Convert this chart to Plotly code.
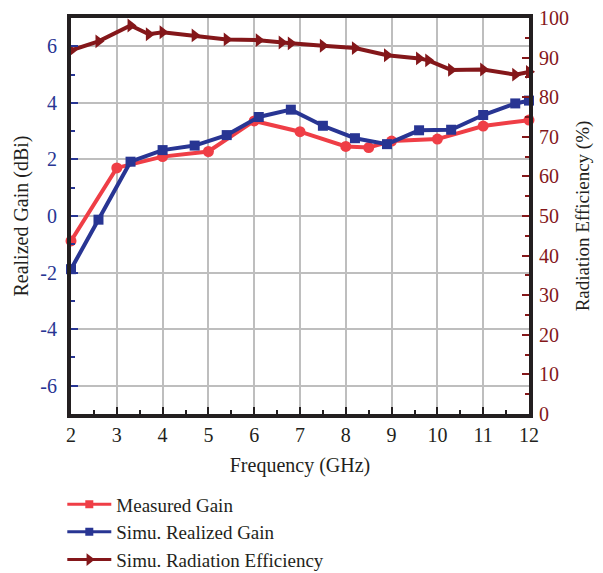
import plotly.graph_objects as go

# Data
meas_f = [2, 3, 4, 5, 6, 7, 8, 8.5, 9, 10, 11, 12]
meas_gain = [-0.88, 1.7, 2.1, 2.28, 3.36, 2.98, 2.46, 2.42, 2.65, 2.72, 3.18, 3.39]

sim_f = [2, 2.6, 3.3, 4.0, 4.7, 5.4, 6.1, 6.8, 7.5, 8.2, 8.9, 9.6, 10.3, 11.0, 11.7, 12]
sim_gain = [-1.88, -0.13, 1.92, 2.33, 2.49, 2.86, 3.5, 3.76, 3.19, 2.75, 2.54, 3.03, 3.05, 3.57, 3.98, 4.08]

eff_f = [2, 2.6, 3.3, 3.7, 4.0, 4.7, 5.4, 6.1, 6.6, 6.8, 7.5, 8.2, 8.9, 9.6, 9.8, 10.3, 11.0, 11.7, 12]
eff = [91.8, 94.1, 98.1, 95.9, 96.4, 95.6, 94.6, 94.4, 93.8, 93.6, 93.0, 92.4, 90.6, 89.8, 89.3, 86.9, 87.0, 85.7, 86.4]

gain_ticks = [-6, -4, -2, 0, 2, 4, 6]
gain_tick_labels = ["-6", "-4", "-2", "0", "2", "4", "6"]

RED = "#EF3E46"
BLUE = "#283593"
DRED = "#84171A"
INK = "#231F20"
FONT = "Liberation Serif"

fig = go.Figure()
fig.add_trace(go.Scatter(x=meas_f, y=meas_gain, mode="lines+markers", name="Measured Gain",
                         line=dict(color=RED, width=4), marker=dict(symbol="circle", size=11, color=RED),
                         showlegend=False, cliponaxis=False))
fig.add_trace(go.Scatter(x=sim_f, y=sim_gain, mode="lines+markers", name="Simu. Realized Gain",
                         line=dict(color=BLUE, width=4), marker=dict(symbol="square", size=10, color=BLUE),
                         showlegend=False, cliponaxis=False))
fig.add_trace(go.Scatter(x=eff_f, y=eff, mode="lines+markers", name="Simu. Radiation Efficiency",
                         line=dict(color=DRED, width=4), marker=dict(symbol="triangle-right", size=12, color=DRED),
                         yaxis="y2", showlegend=False, cliponaxis=False))
# legend entries (squares for gain entries, as in the reference legend)
fig.add_trace(go.Scatter(x=[None], y=[None], mode="lines+markers", name="Measured Gain",
                         line=dict(color=RED, width=3), marker=dict(symbol="square", size=8, color=RED)))
fig.add_trace(go.Scatter(x=[None], y=[None], mode="lines+markers", name="Simu. Realized Gain",
                         line=dict(color=BLUE, width=3), marker=dict(symbol="square", size=8, color=BLUE)))
fig.add_trace(go.Scatter(x=[None], y=[None], mode="lines+markers", name="Simu. Radiation Efficiency",
                         line=dict(color=DRED, width=3), marker=dict(symbol="triangle-right", size=11, color=DRED),
                         yaxis="y2"))

# the page body adds an 8px offset; the figure is sized so it ends at the window edge
fig.update_layout(
    width=595, height=565,
    margin=dict(l=63, r=74, t=10, b=159, autoexpand=False),
    paper_bgcolor="white", plot_bgcolor="white",
    font=dict(family=FONT, size=20, color=INK),
    xaxis=dict(range=[2, 12], dtick=1, tick0=2, showgrid=True, gridcolor="#BEBEBE", gridwidth=1.5,
               showline=True, linecolor=INK, linewidth=4, mirror=True, automargin=False,
               ticks="inside", ticklen=7, tickwidth=2, tickcolor=INK, ticklabelstandoff=0,
               ticklabeloverflow="allow",
               minor=dict(dtick=0.5, ticks="inside", ticklen=4, tickwidth=2, tickcolor=INK, showgrid=False),
               tickfont=dict(size=20, color=INK), zeroline=False,
               title=dict(text="Frequency (GHz)", font=dict(size=20), standoff=14)),
    yaxis=dict(range=[-7, 7], tickvals=gain_ticks, ticktext=gain_tick_labels, showgrid=True,
               gridcolor="#BEBEBE", gridwidth=1.5,
               showline=True, linecolor=INK, linewidth=4, mirror=True, automargin=False,
               ticks="inside", ticklen=7, tickwidth=2, tickcolor=BLUE, ticklabelstandoff=6,
               ticklabeloverflow="allow",
               minor=dict(dtick=1, ticks="inside", ticklen=4, tickwidth=2, tickcolor=BLUE, showgrid=False),
               tickfont=dict(size=20, color=BLUE), zeroline=False,
               title=dict(text="Realized Gain (dBi)", font=dict(size=20, color=INK), standoff=7)),
    yaxis2=dict(range=[0, 100], dtick=10, overlaying="y", side="right", showgrid=False,
                showline=True, linecolor=INK, linewidth=4, automargin=False,
                ticks="inside", ticklen=7, tickwidth=2, tickcolor=DRED, ticklabelstandoff=2,
                ticklabeloverflow="allow",
                minor=dict(dtick=5, ticks="inside", ticklen=4, tickwidth=2, tickcolor=DRED),
                tickfont=dict(size=20, color=DRED), zeroline=False,
                title=dict(text="Radiation Efficiency (%)", font=dict(size=19, color=INK), standoff=9)),
    legend=dict(x=-0.019, y=-0.18, xanchor="left", yanchor="top", bgcolor="rgba(0,0,0,0)",
                font=dict(size=19, color=INK), itemwidth=44, tracegroupgap=0),
)

fig.write_html("out.html")
